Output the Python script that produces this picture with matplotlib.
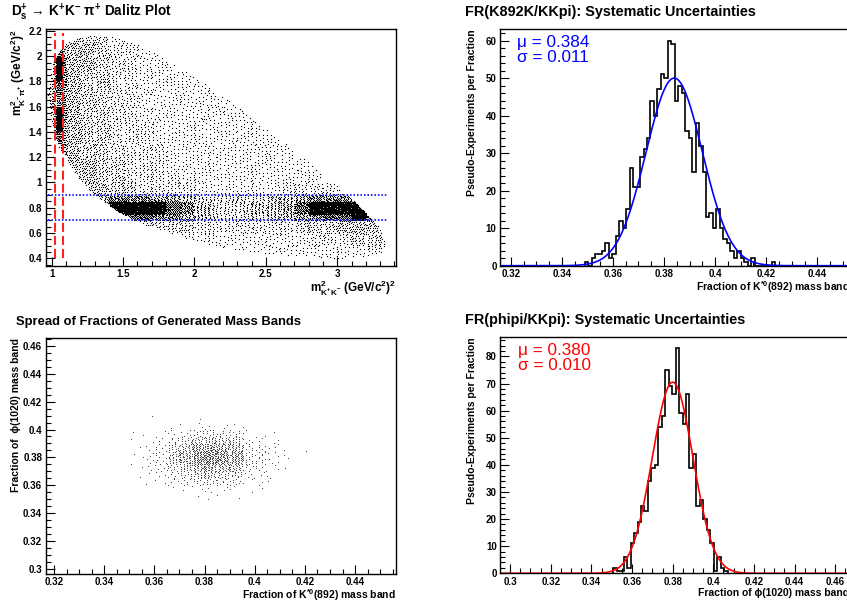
import numpy as np
import matplotlib
matplotlib.use("Agg")
import matplotlib.pyplot as plt
from matplotlib.path import Path
from matplotlib.ticker import MultipleLocator, FuncFormatter

plt.rcParams['font.family'] = ['Liberation Sans', 'DejaVu Sans']
plt.rcParams['font.weight'] = 'bold'
plt.rcParams['mathtext.fontset'] = 'custom'
plt.rcParams['mathtext.rm'] = 'Liberation Sans:bold'
plt.rcParams['mathtext.it'] = 'Liberation Sans:bold'
plt.rcParams['mathtext.bf'] = 'Liberation Sans:bold'
plt.rcParams['lines.scale_dashes'] = False

# ---- Dalitz plot: outline of the populated region (m2_KK, m2_Kpi)
dalitz_edge_x = [0.975, 0.985, 1.0, 1.02, 1.05, 1.1, 1.2, 1.3, 1.4, 1.5, 1.6, 1.7, 1.8,
                 1.9, 2.0, 2.1, 2.2, 2.3, 2.4, 2.5, 2.6, 2.7, 2.8, 2.9, 3.0, 3.1, 3.2,
                 3.26, 3.3, 3.33, 3.345,
                 3.33, 3.3, 3.2, 3.1, 3.0, 2.9, 2.8, 2.6, 2.4, 2.2, 2.0, 1.8, 1.6, 1.5,
                 1.4, 1.3, 1.2, 1.1, 1.05, 1.02, 1.0, 0.985]
dalitz_edge_y = [1.70, 1.82, 1.91, 1.97, 2.03, 2.10, 2.15, 2.17, 2.16, 2.13, 2.09, 2.04, 1.97,
                 1.91, 1.83, 1.76, 1.68, 1.60, 1.52, 1.43, 1.34, 1.25, 1.16, 1.06, 0.97, 0.87, 0.76,
                 0.69, 0.63, 0.57, 0.52,
                 0.47, 0.445, 0.415, 0.403, 0.401, 0.404, 0.41, 0.43, 0.456, 0.49, 0.54, 0.61, 0.69, 0.75,
                 0.82, 0.91, 1.02, 1.18, 1.29, 1.38, 1.47, 1.56]

# binned event density (0 = empty ... 9 = saturated), top row first
dalitz_x_edges = [0.95, 1.0, 1.03, 1.075, 1.1, 1.2, 1.3, 1.4, 1.5, 1.6, 1.7, 1.8, 1.9, 2.0,
                  2.1, 2.2, 2.3, 2.4, 2.5, 2.6, 2.7, 2.8, 2.9, 3.0, 3.1, 3.2, 3.3, 3.4]
dalitz_y_edges = [0.3, 0.4, 0.5, 0.6, 0.7, 0.75, 0.8, 0.85, 0.9, 1.0, 1.1, 1.2, 1.3, 1.4,
                  1.5, 1.6, 1.7, 1.8, 1.9, 2.0, 2.1, 2.2]
dalitz_levels = [
    "000054432200000000000000000",  # 2.1-2.2
    "058655433221000000000000000",  # 2.0-2.1
    "469755433222210000000000000",  # 1.9-2.0
    "469754433222221000000000000",  # 1.8-1.9
    "468754433222222100000000000",  # 1.7-1.8
    "467754433222222210000000000",  # 1.6-1.7
    "469754433222222221000000000",  # 1.5-1.6
    "369754433322222222100000000",  # 1.4-1.5
    "058754433322222222210000000",  # 1.3-1.4
    "006654433332222222221000000",  # 1.2-1.3
    "000055443332222222222100000",  # 1.1-1.2
    "000055443333222222222210000",  # 1.0-1.1
    "000005544333322222233332000",  # 0.9-1.0
    "000000677766544444556777600",  # 0.85-0.9
    "000000899998754445568999900",  # 0.8-0.85
    "000000099998754445568999980",  # 0.75-0.8
    "000000088877654444556788980",  # 0.7-0.75
    "000000000444433333334445550",  # 0.6-0.7
    "000000000000322222222333443",  # 0.5-0.6
    "000000000000000222222222233",  # 0.4-0.5
    "000000000000000000000000000",  # 0.3-0.4
]
phi_band_x = [1.02, 1.08]
kstar_band_y = [0.70, 0.90]

# ---- pseudo-experiment fractions
k892_counts = [1, 0, 2, 3, 3, 4, 6, 2, 3, 8, 12, 10, 15, 26, 21, 21, 29, 31, 34, 44,
               40, 47, 51, 50, 60, 59, 44, 48, 46, 36, 34, 25, 38, 32, 25, 13, 14, 10,
               15, 10, 7, 6, 4, 2, 4, 2, 1, 0, 2, 0, 0, 0, 0, 0, 1]
k892_first_edge = 0.3489
k892_bin_width = 0.001358
k892_mu, k892_sigma, k892_peak = 0.384, 0.011, 50.0

phi_counts = [2, 1, 1, 6, 2, 11, 15, 19, 25, 23, 34, 39, 40, 54, 58, 75, 69, 66, 83,
              59, 55, 66, 39, 44, 25, 27, 20, 16, 11, 1, 6, 2, 1]
phi_first_edge = 0.3508
phi_bin_width = 0.001703
phi_mu, phi_sigma, phi_peak = 0.380, 0.010, 70.5

# joint spread, counts per cell (rows: phi fraction, cols: K892 fraction)
spread_x_edges = [0.345, 0.35, 0.355, 0.36, 0.365, 0.37, 0.375, 0.38, 0.385, 0.39,
                  0.395, 0.40, 0.405, 0.41, 0.415, 0.42, 0.425]
spread_y_edges = [0.35, 0.355, 0.36, 0.365, 0.37, 0.375, 0.38, 0.385, 0.39, 0.395,
                  0.40, 0.405, 0.41]
spread_counts = [
    [0, 0, 0, 0, 0, 0, 1, 1, 1, 1, 0, 0, 0, 0, 0, 0],
    [0, 0, 0, 0, 1, 1, 2, 3, 2, 2, 1, 1, 0, 0, 0, 0],
    [0, 0, 1, 2, 4, 6, 8, 10, 8, 7, 2, 2, 1, 0, 0, 0],
    [0, 1, 1, 3, 6, 10, 14, 17, 13, 12, 4, 3, 1, 0, 0, 0],
    [0, 1, 2, 4, 10, 15, 23, 26, 21, 18, 6, 5, 2, 1, 0, 0],
    [0, 1, 3, 6, 15, 22, 34, 39, 32, 27, 9, 7, 3, 1, 0, 0],
    [0, 1, 3, 6, 15, 23, 34, 39, 32, 28, 9, 7, 3, 1, 0, 1],
    [0, 1, 2, 5, 12, 18, 27, 31, 25, 21, 7, 5, 3, 1, 0, 0],
    [0, 1, 1, 3, 7, 10, 16, 18, 15, 13, 4, 3, 2, 0, 0, 0],
    [0, 1, 1, 1, 3, 5, 8, 9, 7, 6, 2, 1, 1, 0, 0, 0],
    [0, 0, 0, 0, 1, 1, 2, 2, 2, 1, 1, 0, 0, 0, 0, 0],
    [0, 0, 1, 0, 0, 0, 1, 0, 0, 0, 0, 0, 0, 0, 0, 0],
]

W, H = 847, 605
fig = plt.figure(figsize=(W / 100, H / 100), dpi=100)


def pad_axes(left, top, right, bottom):
    return fig.add_axes([left / W, 1 - bottom / H, (right - left) / W, (bottom - top) / H])


def root_style(ax, xmaj, xmin, ymaj, ymin):
    ax.xaxis.set_major_locator(MultipleLocator(xmaj))
    ax.xaxis.set_minor_locator(MultipleLocator(xmin))
    ax.yaxis.set_major_locator(MultipleLocator(ymaj))
    ax.yaxis.set_minor_locator(MultipleLocator(ymin))
    fmt = FuncFormatter(lambda v, p: f"{round(v, 6):g}")
    ax.xaxis.set_major_formatter(fmt)
    ax.yaxis.set_major_formatter(fmt)
    ax.tick_params(which='both', direction='in', top=False, right=False,
                   labelsize=7, pad=2.5, width=0.8)
    ax.tick_params(which='major', length=6.5)
    ax.tick_params(which='minor', length=3.3)
    for s in ax.spines.values():
        s.set_linewidth(1.0)


# quasi-uniform fill of each cell (R2 sequence), so the dots are spread evenly
G1, G2 = 0.7548776662466927, 0.5698402909980532


def fill_cells(x_edges, y_edges, counts):
    xs, ys = [], []
    k = 0
    for j in range(len(y_edges) - 1):
        for i in range(len(x_edges) - 1):
            n = int(round(counts[j][i]))
            if n <= 0:
                continue
            idx = np.arange(k, k + n)
            k += n
            u = (0.5 + G1 * idx) % 1.0
            v = (0.5 + G2 * idx) % 1.0
            xs.append(x_edges[i] + u * (x_edges[i + 1] - x_edges[i]))
            ys.append(y_edges[j] + v * (y_edges[j + 1] - y_edges[j]))
    return np.concatenate(xs), np.concatenate(ys)


def y_title(ax, text, xpos, size=7.5):
    ax.text(xpos, 1.0, text, rotation=90, ha='center', va='top',
            fontsize=size, transform=ax.transAxes)


def x_title(ax, text, ypos, size=7.5):
    ax.text(1.0, ypos, text, ha='right', va='center', fontsize=size,
            transform=ax.transAxes)


# ---------------- Dalitz plot ----------------
ax = pad_axes(45.7, 29.3, 395.7, 265.7)
ax.set_xlim(0.958, 3.409)
ax.set_ylim(0.341, 2.213)
bb = ax.get_window_extent()
sx = bb.width / (3.409 - 0.958)
sy = bb.height / (2.213 - 0.341)
level_density = [0, 0.035, 0.07, 0.11, 0.16, 0.23, 0.32, 0.45, 0.6, 1.6]
rows = dalitz_levels[::-1]
cell_counts = []
for j, row in enumerate(rows):
    dy = (dalitz_y_edges[j + 1] - dalitz_y_edges[j]) * sy
    cell_counts.append([level_density[int(c)] * (dalitz_x_edges[i + 1] - dalitz_x_edges[i]) * sx * dy
                        for i, c in enumerate(row)])
dx, dy = fill_cells(dalitz_x_edges, dalitz_y_edges, cell_counts)
inside = Path(np.column_stack([dalitz_edge_x, dalitz_edge_y])).contains_points(np.column_stack([dx, dy]))
ax.plot(dx[inside], dy[inside], 's', ms=0.8, mew=0, color='black', linestyle='none')
for xv in phi_band_x:
    ax.vlines(xv, 0.40, 2.18, colors='#ff2020', linestyles=(0, (6.5, 2.9)), linewidth=1.5)
for yv in kstar_band_y:
    ax.hlines(yv, 0.975, 3.345, colors='#2020ff', linestyles=(0, (1.1, 1.4)), linewidth=1.4)
root_style(ax, 0.5, 0.1, 0.2, 0.05)
y_title(ax, r"m$^{2}_{\mathrm{K}^{-}\mathrm{\pi}^{+}}$ (GeV/c$^{2}$)$^{2}$", -0.077, 8.5)
x_title(ax, r"m$^{2}_{\mathrm{K}^{+}\mathrm{K}^{-}}$ (GeV/c$^{2}$)$^{2}$", -0.098, 8.5)
fig.text(11 / W, 1 - 16.5 / H, r"D$_{s}^{+}$ → K$^{+}$K$^{-}$ π$^{+}$ Dalitz Plot",
         fontsize=9.8, weight='bold', va='baseline')

# ---------------- K*(892) fraction ----------------
ax = pad_axes(500, 29.3, 849.5, 265.7)
edges = k892_first_edge + k892_bin_width * np.arange(len(k892_counts) + 1)
ax.stairs(k892_counts, edges, color='black', linewidth=1.2)
ax.set_xlim(0.3158, 0.4526)
ax.set_ylim(0, 63)
xf = np.linspace(0.3158, 0.4526, 600)
ax.plot(xf, k892_peak * np.exp(-0.5 * ((xf - k892_mu) / k892_sigma) ** 2), color='#0000ff', lw=1.2)
ax.text(0.05, 0.975, f"μ = {k892_mu:.3f}\nσ = {k892_sigma:.3f}", color='#0000ff', fontsize=12.3,
        weight='normal', va='top', ha='left', linespacing=1.0, transform=ax.transAxes)
root_style(ax, 0.02, 0.005, 10, 2)
y_title(ax, "Pseudo-Experiments per Fraction", -0.081)
x_title(ax, r"Fraction of K$^{*0}$(892) mass band", -0.089)
fig.text(465 / W, 1 - 16 / H, "FR(K892K/KKpi): Systematic Uncertainties",
         fontsize=10.35, weight='bold', va='baseline')

# ---------------- spread of the two fractions ----------------
ax = pad_axes(45.7, 337.7, 395.7, 574)
sx_pts, sy_pts = fill_cells(spread_x_edges, spread_y_edges, spread_counts)
ax.plot(sx_pts, sy_pts, 's', ms=0.75, mew=0, color='#4a4a4a', linestyle='none')
ax.set_xlim(0.3167, 0.4562)
ax.set_ylim(0.2966, 0.4657)
root_style(ax, 0.02, 0.005, 0.02, 0.005)
y_title(ax, "Fraction of  ϕ(1020) mass band", -0.085)
x_title(ax, r"Fraction of K$^{*0}$(892) mass band", -0.089)
fig.text(16 / W, 1 - 325 / H, "Spread of Fractions of Generated Mass Bands",
         fontsize=9.4, weight='bold', va='baseline')

# ---------------- phi(1020) fraction ----------------
ax = pad_axes(500.3, 337, 849.5, 573.3)
edges = phi_first_edge + phi_bin_width * np.arange(len(phi_counts) + 1)
ax.stairs(phi_counts, edges, color='black', linewidth=1.2)
ax.set_xlim(0.2952, 0.4670)
ax.set_ylim(0, 87.15)
xf = np.linspace(0.2952, 0.4670, 600)
ax.plot(xf, phi_peak * np.exp(-0.5 * ((xf - phi_mu) / phi_sigma) ** 2), color='#ff0000', lw=1.2)
ax.text(0.05, 0.975, f"μ = {phi_mu:.3f}\nσ = {phi_sigma:.3f}", color='#ff0000', fontsize=12.3,
        weight='normal', va='top', ha='left', linespacing=1.0, transform=ax.transAxes)
root_style(ax, 0.02, 0.005, 10, 2)
y_title(ax, "Pseudo-Experiments per Fraction", -0.081)
x_title(ax, "Fraction of ϕ(1020) mass band", -0.085)
fig.text(465 / W, 1 - 324.3 / H, "FR(phipi/KKpi): Systematic Uncertainties",
         fontsize=10.35, weight='bold', va='baseline')

fig.savefig("out.png", dpi=100)
